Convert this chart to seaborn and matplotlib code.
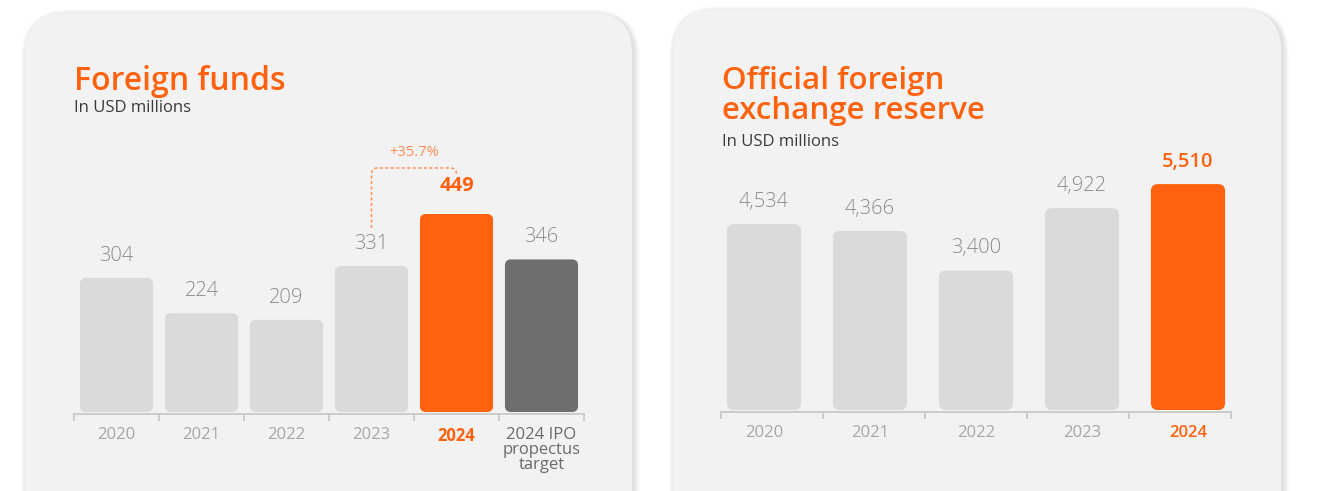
import matplotlib
matplotlib.use("Agg")
import matplotlib.pyplot as plt
import seaborn as sns
import pandas as pd
import numpy as np
from matplotlib.patches import FancyBboxPatch, PathPatch
from matplotlib.path import Path
from matplotlib.transforms import IdentityTransform

# ---------------- data ----------------
funds_categories = ["2020", "2021", "2022", "2023", "2024", "2024 IPO\npropectus\ntarget"]
funds_values = [304, 224, 209, 331, 449, 346]
funds_labels = ["304", "224", "209", "331", "449", "346"]
growth_label = "+35.7%"

reserve_categories = ["2020", "2021", "2022", "2023", "2024"]
reserve_values = [4534, 4366, 3400, 4922, 5510]
reserve_labels = ["4,534", "4,366", "3,400", "4,922", "5,510"]

funds_title = "Foreign funds"
reserve_title = "Official foreign\nexchange reserve"
subtitle = "In USD millions"

# ---------------- style ----------------
ORANGE = "#ff620e"
ORANGE_LIGHT = "#ff8d55"
LIGHT = "#dadada"
DARK = "#6e6e6f"
PANEL = "#f2f2f2"
AXIS = "#c8c8c8"
TICK_TXT = "#a6a6a6"
VAL_TXT = "#8a8a8a"

sns.set_theme(style="white")
plt.rcParams['font.family'] = ['Open Sans', 'DejaVu Sans']

W, H = 1326, 491
DPI = 100
fig = plt.figure(figsize=(W / DPI, H / DPI), dpi=DPI)
fig.patch.set_facecolor("white")


def fig_box(x0, y0, x1, y1):
    return [x0 / W, 1 - y1 / H, (x1 - x0) / W, (y1 - y0) / H]


def panel(x0, y0, x1, y1, r=40):
    # soft shadow
    for i in range(10, 0, -1):
        sh = FancyBboxPatch((x0 - i * 0.6 + 2, H - y1 - i * 0.6 - 2), (x1 - x0) + i * 1.2, (y1 - y0) + i * 1.2,
                            boxstyle=f"round,pad=0,rounding_size={r + i}",
                            transform=IdentityTransform(), facecolor="black",
                            edgecolor="none", alpha=0.010, zorder=-3)
        fig.add_artist(sh)
    p = FancyBboxPatch((x0, H - y1), x1 - x0, y1 - y0,
                       boxstyle=f"round,pad=0,rounding_size={r}",
                       transform=IdentityTransform(), facecolor=PANEL,
                       edgecolor="none", zorder=-2)
    fig.add_artist(p)


panel(25, 13, 632, 560)
panel(673, 10, 1281, 560)


def units_per_px(ax):
    bb = ax.get_window_extent()
    x0, x1 = ax.get_xlim()
    y0, y1 = ax.get_ylim()
    return (x1 - x0) / bb.width, (y1 - y0) / bb.height


def round_bars(ax, colors, r_px):
    xupp, yupp = units_per_px(ax)
    for patch in list(ax.patches):
        x, y = patch.get_x(), patch.get_y()
        w, h = patch.get_width(), patch.get_height()
        idx = int(round(x + w / 2))
        fb = FancyBboxPatch((x, y), w, h,
                            boxstyle=f"round,pad=0,rounding_size={r_px * xupp}",
                            mutation_aspect=yupp / xupp,
                            facecolor=colors[idx], edgecolor="none", zorder=3)
        ax.add_patch(fb)
        patch.set_visible(False)


def style_axis(ax, n, labels, label_colors, label_weights, bounds=None):
    for s in ["left", "top", "right"]:
        ax.spines[s].set_visible(False)
    ax.spines["bottom"].set_color(AXIS)
    ax.spines["bottom"].set_linewidth(1.3)
    ax.spines["bottom"].set_position(("outward", 1.5))
    ax.set_facecolor("none")
    ax.set_zorder(2)
    ax.set_yticks([])
    ax.set_xlabel("")
    ax.set_ylabel("")
    ax.set_xticks(range(n))
    ax.set_xticklabels(labels)
    ax.tick_params(axis="x", which="major", bottom=False, length=0, pad=9)
    lo, hi = (-0.5, n - 0.5) if bounds is None else bounds
    ax.spines["bottom"].set_bounds(lo, hi)
    ax.set_xticks(np.linspace(lo, hi, n + 1), minor=True)
    ax.tick_params(axis="x", which="minor", bottom=True, length=5, width=1.3,
                   color=AXIS, direction="out")
    for t, c, wgt in zip(ax.get_xticklabels(), label_colors, label_weights):
        t.set_color(c)
        t.set_fontweight(wgt)
        t.set_fontsize(12)
        t.set_linespacing(0.95)


# ---------------- left chart ----------------
ax1 = fig.add_axes(fig_box(74, 100, 584, 412))
df1 = pd.DataFrame({"cat": funds_categories, "val": funds_values})
colors1 = [LIGHT, LIGHT, LIGHT, LIGHT, ORANGE, DARK]
sns.barplot(data=df1, x="cat", y="val", hue="cat", order=funds_categories,
            hue_order=funds_categories, palette=colors1, legend=False,
            width=0.86, saturation=1, errorbar=None, ax=ax1)
ax1.set_xlim(-0.5, len(funds_values) - 0.5)
ax1.set_ylim(0, 312 / 0.441)
style_axis(ax1, len(funds_values), funds_categories,
           [TICK_TXT] * 4 + [ORANGE, "#6a6a6a"],
           ["normal"] * 4 + ["bold", "normal"])
round_bars(ax1, colors1, 6)

hi_idx = funds_values.index(max(funds_values))
for i, (v, lab) in enumerate(zip(funds_values, funds_labels)):
    if i == hi_idx:
        ax1.annotate(lab, xy=(i, v), xytext=(0, 20), textcoords="offset points",
                     ha="center", va="center", fontsize=14.5, color=ORANGE, fontweight="bold")
    else:
        ax1.annotate(lab, xy=(i, v), xytext=(0, 16), textcoords="offset points",
                     ha="center", va="center", fontsize=14.5, color=VAL_TXT, fontweight="light")

# growth connector 2023 -> 2024
prev_idx = hi_idx - 1
xupp, yupp = units_per_px(ax1)
y_start = funds_values[prev_idx] + 38 * yupp
y_top = funds_values[hi_idx] + 46 * yupp
y_end = funds_values[hi_idx] + 38 * yupp
r = 6
rx, ry = r * xupp, r * yupp
verts = [(prev_idx, y_start), (prev_idx, y_top - ry), (prev_idx, y_top), (prev_idx + rx, y_top),
         (hi_idx - rx, y_top), (hi_idx, y_top), (hi_idx, y_top - ry), (hi_idx, y_end)]
codes = [Path.MOVETO, Path.LINETO, Path.CURVE3, Path.CURVE3,
         Path.LINETO, Path.CURVE3, Path.CURVE3, Path.LINETO]
ax1.add_patch(PathPatch(Path(verts, codes), fill=False, edgecolor=ORANGE_LIGHT,
                        linewidth=1.1, linestyle=(0, (2, 1.6)), clip_on=False, zorder=4))
ax1.annotate(growth_label, xy=((prev_idx + hi_idx) / 2, y_top), xytext=(0, 11),
             textcoords="offset points", ha="center", va="center",
             fontsize=10.5, color=ORANGE_LIGHT, annotation_clip=False)

fig.text(74 / W, 1 - 90 / H, funds_title, fontsize=23, fontweight="semibold", color=ORANGE,
         ha="left", va="baseline")
fig.text(74 / W, 1 - 112 / H, subtitle, fontsize=12, color="#3a3a3a", ha="left", va="baseline")

# ---------------- right chart ----------------
ax2 = fig.add_axes(fig_box(711, 100, 1241, 410))
df2 = pd.DataFrame({"cat": reserve_categories, "val": reserve_values})
colors2 = [LIGHT, LIGHT, LIGHT, LIGHT, ORANGE]
sns.barplot(data=df2, x="cat", y="val", hue="cat", order=reserve_categories,
            hue_order=reserve_categories, palette=colors2, legend=False,
            width=0.70, saturation=1, errorbar=None, ax=ax2)
ax2.set_xlim(-0.5, len(reserve_values) - 0.5)
ax2.set_ylim(0, 310 / 0.041)
style_axis(ax2, len(reserve_values), reserve_categories,
           [TICK_TXT] * 4 + [ORANGE], ["normal"] * 4 + ["semibold"],
           bounds=(-0.406, len(reserve_values) - 1 + 0.406))
round_bars(ax2, colors2, 7)

hi2 = reserve_values.index(max(reserve_values))
for i, (v, lab) in enumerate(zip(reserve_values, reserve_labels)):
    ax2.annotate(lab, xy=(i, v), xytext=(0, 16), textcoords="offset points",
                 ha="center", va="center", fontsize=14.5,
                 color=ORANGE if i == hi2 else VAL_TXT,
                 fontweight="semibold" if i == hi2 else "light")

fig.text(722 / W, 1 - 119 / H, reserve_title, fontsize=22.5, fontweight="semibold", color=ORANGE,
         ha="left", va="baseline", linespacing=1.0)
fig.text(722 / W, 1 - 146 / H, subtitle, fontsize=12, color="#3a3a3a", ha="left", va="baseline")

fig.savefig("out.png", dpi=DPI, facecolor="white")
